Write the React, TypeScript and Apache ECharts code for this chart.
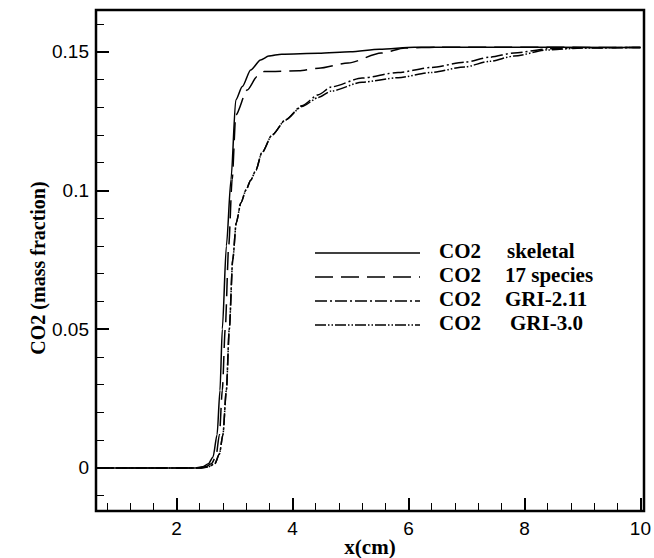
import React, { useEffect, useRef } from "react";
import * as echarts from "echarts";

const xMajorTicks = [2, 4, 6, 8, 10];
const xMinorTicks = [0.8, 1.2, 1.6, 2.4, 2.8, 3.2, 3.6, 4.4, 4.8, 5.2, 5.6, 6.4, 6.8, 7.2, 7.6, 8.4, 8.8, 9.2, 9.6];
const yMajorTicks = [0, 0.05, 0.1, 0.15];
const yMinorTicks = [-0.01, 0.01, 0.02, 0.03, 0.04, 0.06, 0.07, 0.08, 0.09, 0.11, 0.12, 0.13, 0.14, 0.16];

const seriesNames = ["skeletal", "17 species", "GRI-2.11", "GRI-3.0"];
const speciesLabel = "CO2";

const skeletal = [
  [0.61, 0], [2.3, 0], [2.45, 0.0004], [2.55, 0.0015], [2.63, 0.004], [2.7, 0.012], [2.75, 0.028],
  [2.79, 0.05], [2.86, 0.08], [2.94, 0.104], [3.022, 0.1326], [3.135, 0.1374], [3.279, 0.1434],
  [3.45, 0.147], [3.59, 0.1484], [3.815, 0.1491], [4.45, 0.1494], [5.0, 0.15], [5.5, 0.1509],
  [6.1, 0.1516], [7.0, 0.1516], [10, 0.1515],
];
const species17 = [
  [0.61, 0], [2.35, 0], [2.5, 0.0004], [2.6, 0.0015], [2.68, 0.004], [2.74, 0.012], [2.79, 0.028],
  [2.84, 0.05], [2.9, 0.08], [2.96, 0.104], [3.022, 0.1271], [3.22, 0.1362], [3.39, 0.141],
  [3.51, 0.1428], [4.11, 0.1431], [4.45, 0.144], [4.96, 0.1459], [5.53, 0.1495], [5.94, 0.1513],
  [6.5, 0.1516], [10, 0.1515],
];
const gri211 = [
  [0.61, 0], [2.4, 0], [2.55, 0.0004], [2.66, 0.0015], [2.74, 0.005], [2.8, 0.012], [2.86, 0.028],
  [2.91, 0.05], [2.97, 0.075], [3.03, 0.0883], [3.11, 0.0955], [3.2, 0.1002], [3.28, 0.1037],
  [3.37, 0.1073], [3.47, 0.1135], [3.65, 0.12], [3.88, 0.1254], [4.16, 0.1305], [4.45, 0.1345],
  [4.67, 0.1373], [5.2, 0.1405], [5.82, 0.1425], [6.4, 0.1443], [6.97, 0.1462], [7.4, 0.148],
  [7.82, 0.1495], [8.39, 0.151], [9.0, 0.1514], [10, 0.1515],
];
const gri30 = [
  [0.61, 0], [2.4, 0], [2.55, 0.0004], [2.66, 0.0015], [2.74, 0.005], [2.8, 0.012], [2.86, 0.028],
  [2.91, 0.05], [2.97, 0.075], [3.03, 0.0883], [3.11, 0.0955], [3.2, 0.1002], [3.28, 0.1037],
  [3.37, 0.1073], [3.47, 0.1135], [3.65, 0.12], [3.88, 0.1254], [4.16, 0.1302], [4.45, 0.1335],
  [4.67, 0.1358], [5.2, 0.139], [5.82, 0.1406], [6.4, 0.1425], [6.97, 0.1445], [7.4, 0.1465],
  [7.82, 0.1484], [8.39, 0.1506], [9.0, 0.1513], [10, 0.1515],
];

const seriesData = [skeletal, species17, gri211, gri30];
const dashes: any[] = ["solid", [18, 8], [12, 3, 2, 3], [11, 2, 1.5, 2, 1.5, 2]];

export default function App() {
  const ref = useRef<HTMLDivElement>(null);
  useEffect(() => {
    const chart = echarts.init(ref.current!, null, { renderer: "svg" });
    const sansFont = "Liberation Sans";
    const serifFont = "Liberation Serif";
    const legendY = [253, 277, 301, 325];
    const nameX = [507, 505, 505, 510];
    const gl = 96, gt = 10, gr = 10, gb = 47;
    const graphics: any[] = [
      {
        type: "rect",
        shape: { x: gl, y: gt, width: 654 - gl - gr, height: 558 - gt - gb },
        style: { fill: "none", stroke: "#000", lineWidth: 2.5 },
        z: 10,
      },
      {
        type: "text",
        x: 370,
        y: 547,
        style: {
          text: "x(cm)",
          font: `bold 21px "${serifFont}"`,
          fill: "#000",
          textAlign: "center",
          textVerticalAlign: "middle",
        },
      },
      {
        type: "text",
        x: 38,
        y: 268,
        rotation: Math.PI / 2,
        style: {
          text: "CO2 (mass fraction)",
          font: `bold 20px "${serifFont}"`,
          fill: "#000",
          textAlign: "center",
          textVerticalAlign: "middle",
        },
      },
    ];
    seriesNames.forEach((n, i) => {
      graphics.push({
        type: "line",
        shape: { x1: 315, y1: legendY[i], x2: 420, y2: legendY[i] },
        style: { stroke: "#000", lineWidth: 1.6, lineDash: dashes[i] === "solid" ? null : dashes[i] },
      });
      graphics.push({
        type: "text",
        x: 439,
        y: legendY[i] - 2,
        style: {
          text: speciesLabel,
          font: `bold 21px "${serifFont}"`,
          fill: "#000",
          textAlign: "left",
          textVerticalAlign: "middle",
        },
      });
      graphics.push({
        type: "text",
        x: nameX[i],
        y: legendY[i] - 2,
        style: {
          text: n,
          font: `bold 21px "${serifFont}"`,
          fill: "#000",
          textAlign: "left",
          textVerticalAlign: "middle",
        },
      });
    });

    const xBase = { type: "value", min: 0.612, max: 10, gridIndex: 0, splitLine: { show: false } };
    const yBase = { type: "value", min: -0.0155, max: 0.165, gridIndex: 0, splitLine: { show: false } };

    chart.setOption({
      animation: false,
      backgroundColor: "#fff",
      grid: {
        left: gl,
        right: gr,
        top: gt,
        bottom: gb,
        show: false,
        containLabel: false,
      },
      xAxis: [
        {
          ...xBase,
          position: "bottom",
          axisLine: { show: true, onZero: false, lineStyle: { color: "#000", width: 2 } },
          axisTick: { show: true, inside: true, length: 13, customValues: xMajorTicks, lineStyle: { color: "#000", width: 2 } },
          axisLabel: {
            show: true,
            customValues: xMajorTicks,
            margin: 8,
            color: "#000",
            fontFamily: sansFont,
            fontSize: 19,
          },
        },
        {
          ...xBase,
          position: "bottom",
          axisLine: { show: false, onZero: false },
          axisTick: { show: true, inside: true, length: 8, customValues: xMinorTicks, lineStyle: { color: "#000", width: 1 } },
          axisLabel: { show: false },
        },
      ],
      yAxis: [
        {
          ...yBase,
          position: "left",
          axisLine: { show: true, onZero: false, lineStyle: { color: "#000", width: 2 } },
          axisTick: { show: true, inside: true, length: 13, customValues: yMajorTicks, lineStyle: { color: "#000", width: 2 } },
          axisLabel: {
            show: true,
            customValues: yMajorTicks,
            margin: 7,
            color: "#000",
            fontFamily: sansFont,
            fontSize: 19,
            formatter: (v: number) => String(Math.round(v * 100) / 100),
          },
        },
        {
          ...yBase,
          position: "left",
          axisLine: { show: false, onZero: false },
          axisTick: { show: true, inside: true, length: 8, customValues: yMinorTicks, lineStyle: { color: "#000", width: 1 } },
          axisLabel: { show: false },
        },
      ],
      series: seriesData.map((d, i) => ({
        name: seriesNames[i],
        type: "line",
        xAxisIndex: 0,
        yAxisIndex: 0,
        data: d,
        showSymbol: false,
        symbol: "none",
        smooth: 0.25,
        smoothMonotone: "x",
        lineStyle: { color: "#000", width: 1.5, type: dashes[i] },
        z: 3,
      })),
      graphic: graphics,
    });
    return () => chart.dispose();
  }, []);
  return <div ref={ref} style={{ position: "absolute", left: 0, top: 0, width: 654, height: 558 }} />;
}
